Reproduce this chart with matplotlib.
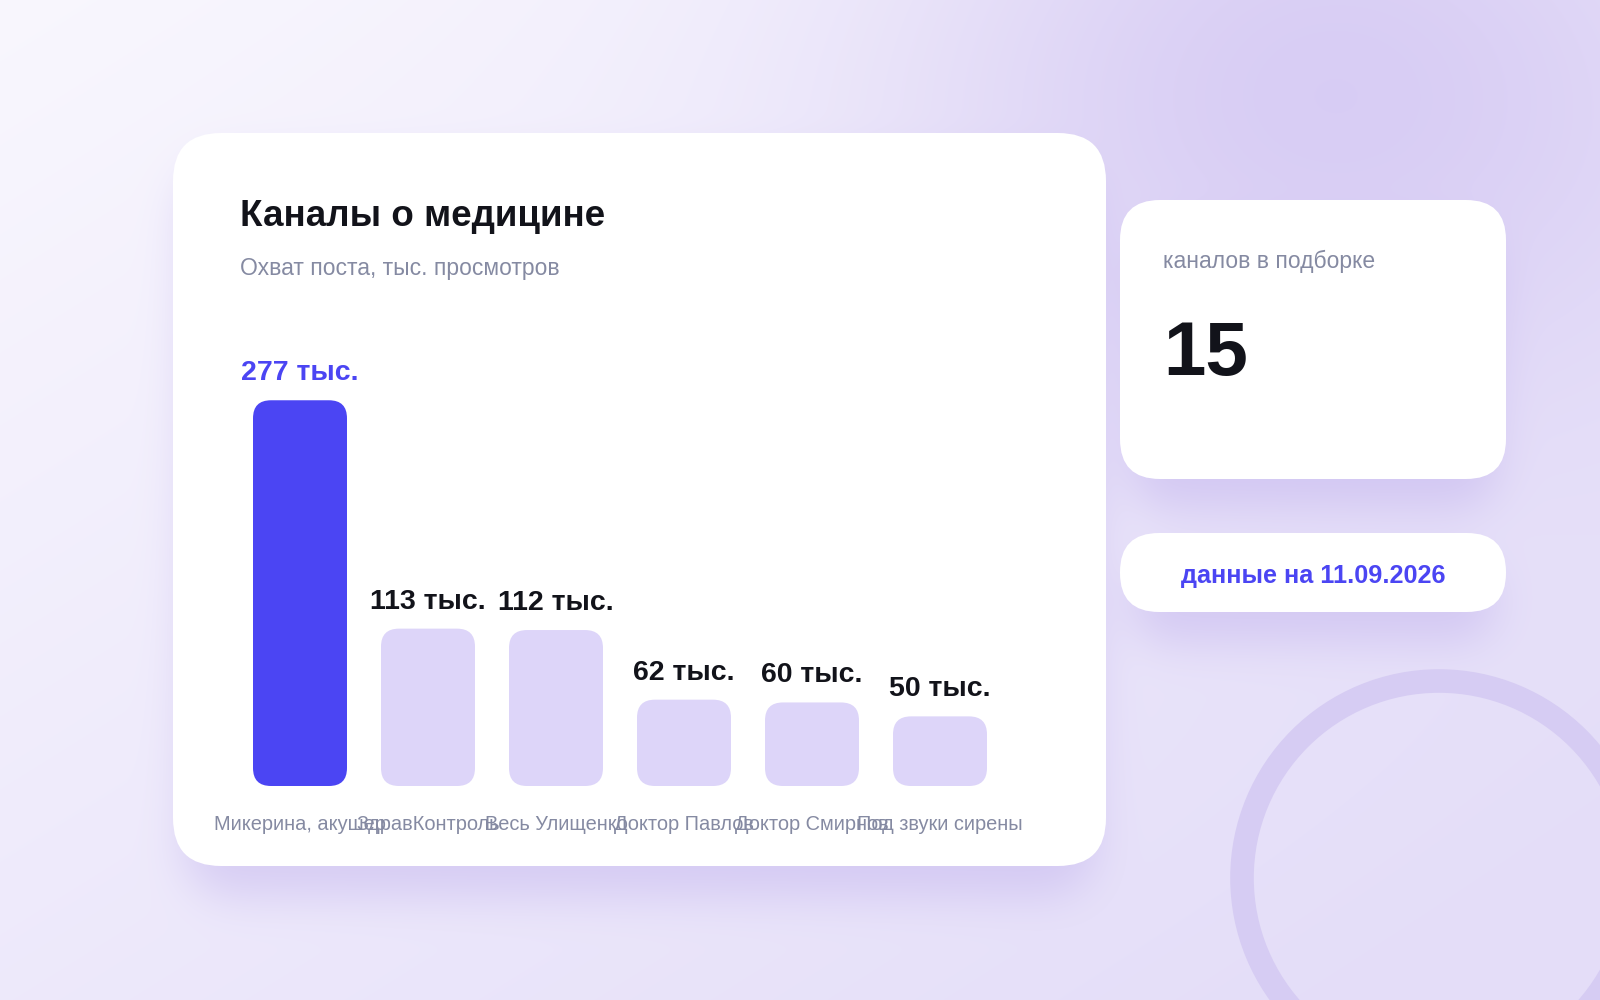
import numpy as np
import matplotlib
matplotlib.use("Agg")
import matplotlib.pyplot as plt
from matplotlib.patches import FancyBboxPatch, Circle

plt.rcParams['font.family'] = ['Liberation Sans', 'DejaVu Sans']

# данные
channels = ["Микерина, акушер", "ЗдравКонтроль", "Весь Улищенко",
            "Доктор Павлов", "Доктор Смирнов", "Под звуки сирены"]
views = [277, 113, 112, 62, 60, 50]
value_labels = ["277 тыс.", "113 тыс.", "112 тыс.", "62 тыс.", "60 тыс.", "50 тыс."]
title = "Каналы о медицине"
subtitle = "Охват поста, тыс. просмотров"
count_caption = "каналов в подборке"
count_value = "15"
date_note = "данные на 11.09.2026"

BLUE = "#4b45f3"
LIGHT = "#ddd5f9"
GRAY = "#858aa2"
DARK = "#12131a"

W, H = 1600, 1000

# карточки (пиксели: x0, y0, x1, y1, радиус)
cards = [(173, 133, 1106, 866, 48),
         (1120, 200, 1506, 479, 40),
         (1120, 533, 1506, 612, 39)]

# фон: градиент + пятно
yy, xx = np.mgrid[0:H, 0:W].astype(float)
c0 = np.array([0.975, 0.968, 0.995])
c1 = np.array([0.895, 0.870, 0.975])
t = np.clip((xx / W) * 0.55 + (yy / H) * 0.55, 0, 1)[..., None]
img = c0 * (1 - t) + c1 * t
blob = np.exp(-(((xx - 1330) / 430) ** 2 + ((yy - 90) / 340) ** 2))[..., None]
img = img * (1 - 0.8 * blob) + np.array([0.825, 0.775, 0.950]) * 0.8 * blob


def rrect_mask(x0, y0, x1, y1, r):
    cx, cy = (x0 + x1) / 2, (y0 + y1) / 2
    dx = np.maximum(np.abs(xx - cx) - ((x1 - x0) / 2 - r), 0)
    dy = np.maximum(np.abs(yy - cy) - ((y1 - y0) / 2 - r), 0)
    return (np.hypot(dx, dy) <= r).astype(float)


def box_blur(a, k):
    for axis in (0, 1):
        c = np.cumsum(np.pad(a, [(k + 1, k) if i == axis else (0, 0) for i in range(2)], mode="edge"), axis=axis)
        if axis == 0:
            a = (c[2 * k + 1:] - c[:-2 * k - 1]) / (2 * k + 1)
        else:
            a = (c[:, 2 * k + 1:] - c[:, :-2 * k - 1]) / (2 * k + 1)
    return a


shadow = np.zeros((H, W))
for (x0, y0, x1, y1, r) in cards:
    shadow = np.maximum(shadow, rrect_mask(x0 + 10, y0 + 30, x1 - 10, y1 + 30, r))
for _ in range(3):
    shadow = box_blur(shadow, 20)
shadow = shadow[..., None] * 0.5
img = img * (1 - shadow) + np.array([0.76, 0.70, 0.93]) * shadow

fig = plt.figure(figsize=(16, 10), dpi=100)
bg = fig.add_axes([0, 0, 1, 1])
bg.imshow(img, extent=(0, W, H, 0), aspect="auto", interpolation="bilinear")
bg.set_xlim(0, W)
bg.set_ylim(H, 0)
bg.axis("off")

bg.add_patch(Circle((1439, 878), 197, fill=False, lw=17, edgecolor="#d6ccf3"))

for (x0, y0, x1, y1, r) in cards:
    bg.add_patch(FancyBboxPatch((x0 + r, y0 + r), x1 - x0 - 2 * r, y1 - y0 - 2 * r,
                                boxstyle=f"round,pad={r}", facecolor="white",
                                edgecolor="none"))

bg.text(240, 217, title, fontsize=26.5, fontweight="bold", color=DARK, va="center")
bg.text(240, 268, subtitle, fontsize=16.5, color=GRAY, va="center")
bg.text(1163, 261, count_caption, fontsize=16.5, color=GRAY, va="center")
bg.text(1163, 356, count_value, fontsize=55, fontweight="bold", color=DARK, va="center")
bg.text(1313, 576, date_note, fontsize=18.2, fontweight="bold", color=BLUE,
        va="center", ha="center")

# столбцы
px_per_x = 128
bottom_px, top_px = 786, 300
ymax = 349
ax = fig.add_axes([(300 - px_per_x / 2) / W, (H - bottom_px) / H,
                   6 * px_per_x / W, (bottom_px - top_px) / H])
ax.set_xlim(-0.5, 5.5)
ax.set_ylim(0, ymax)
ax.patch.set_alpha(0)
for s in ax.spines.values():
    s.set_visible(False)
ax.set_yticks([])

x = np.arange(len(views))
colors = [BLUE] + [LIGHT] * (len(views) - 1)
bars = ax.bar(x, views, width=94 / px_per_x, color="none")
aspect = (ymax / (bottom_px - top_px)) * px_per_x
rad = 18 / px_per_x
for b, c in zip(bars, colors):
    ax.add_patch(FancyBboxPatch((b.get_x() + rad, rad * aspect),
                                b.get_width() - 2 * rad, b.get_height() - 2 * rad * aspect,
                                boxstyle=f"round,pad={rad}", mutation_aspect=aspect,
                                facecolor=c, edgecolor="none"))

for xi, v, lab, c in zip(x, views, value_labels, colors):
    ax.annotate(lab, (xi, v), xytext=(0, 14), textcoords="offset pixels",
                ha="center", va="bottom", fontsize=20.5, fontweight="bold",
                color=BLUE if c == BLUE else DARK)

ax.set_xticks(x)
ax.set_xticklabels(channels, fontsize=14.4, color=GRAY)
ax.tick_params(axis="x", length=0, pad=21)

fig.savefig("out.png", dpi=100)
